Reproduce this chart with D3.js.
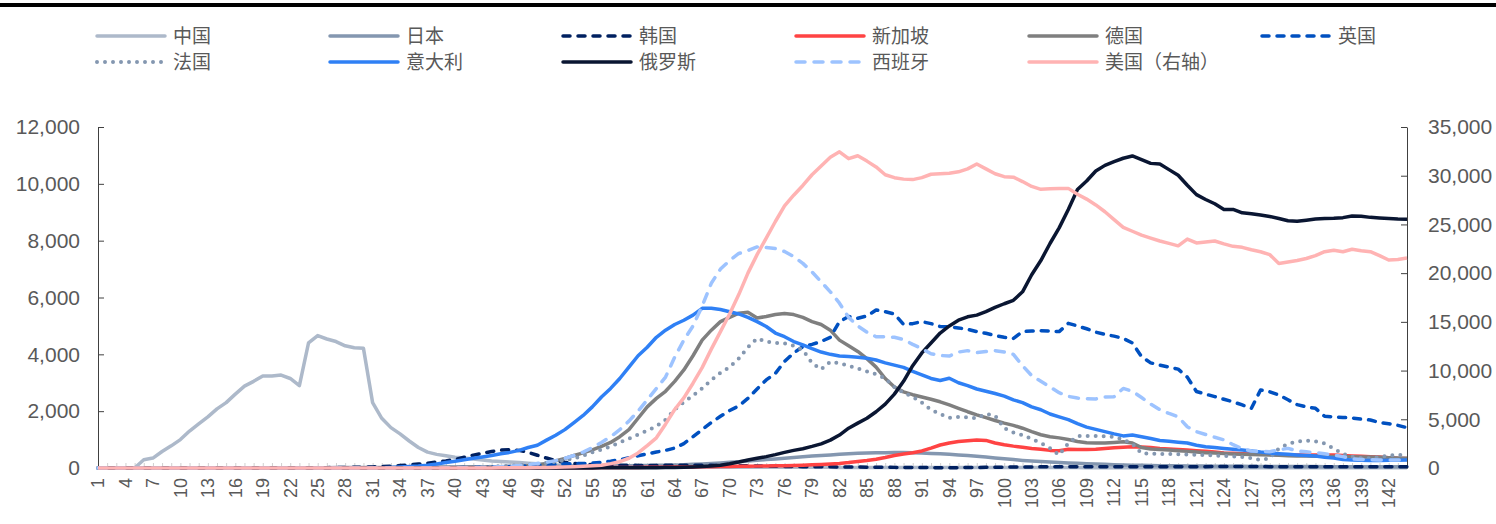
<!DOCTYPE html>
<html>
<head>
<meta charset="utf-8">
<script src="https://cdn.jsdelivr.net/npm/d3@7/dist/d3.min.js"></script>
<style>
  body { margin: 0; background: #fff; }
  text { font-family: "Liberation Sans", Arial, sans-serif; fill: #595959; }
  .cn { font-family: "Liberation Sans", "Noto Sans CJK SC", sans-serif; }
</style>
</head>
<body>
<script>
// categories: day index 1..144
const jours = d3.range(1, 145);
const joursEtiquettes = jours.filter(d => (d - 1) % 3 === 0);
const ticksGauche = [0, 2000, 4000, 6000, 8000, 10000, 12000];
const ticksDroite = [0, 5000, 10000, 15000, 20000, 25000, 30000, 35000];
const noms = ['中国', '日本', '韩国', '新加坡', '德国', '英国', '法国', '意大利', '俄罗斯', '西班牙', '美国（右轴）'];

// series values, 12 per row
const chine = [
  0,0,0,0,0,290,350,580,780,1000,1300,1550,
  1800,2080,2300,2600,2880,3050,3240,3240,3270,3150,2900,4400,
  4660,4540,4450,4300,4230,4210,2300,1750,1420,1200,950,720,
  560,480,430,380,350,320,280,250,230,210,190,170,
  150,130,110,95,80,70,60,55,50,45,40,38,
  36,35,34,33,32,31,30,30,29,28,28,27,
  27,26,26,25,25,24,24,23,23,22,22,22,
  21,21,20,20,20,19,19,18,18,18,17,17,
  17,16,16,16,15,15,15,15,14,14,14,14,
  13,13,13,13,12,12,12,12,12,11,11,11,
  11,11,10,10,10,10,10,10,10,9,9,9,
  9,9,9,9,9,9,8,8,8,8,8,8];
const japon = [
  0,0,0,0,0,0,0,0,0,0,1,1,
  2,2,3,3,4,5,5,6,7,8,9,10,
  11,12,14,15,16,18,20,22,24,26,28,30,
  32,34,36,38,40,42,45,45,47,48,50,52,
  54,55,56,58,60,62,65,68,72,76,80,85,
  90,95,100,105,112,130,145,160,180,200,220,245,
  270,295,320,345,370,395,420,440,460,480,500,515,
  525,535,540,545,542,535,525,512,498,480,460,438,
  412,385,355,325,295,268,245,225,208,192,178,165,
  152,140,128,118,108,100,94,88,83,79,75,72,
  70,68,66,63,61,59,57,55,54,53,52,51,
  50,49,48,47,46,46,45,44,44,43,42,42];
const coree = [
  0,0,0,0,0,0,0,0,0,0,0,0,
  0,0,1,1,1,1,1,1,1,2,3,5,
  8,12,16,20,25,30,38,50,65,85,110,140,
  170,210,250,300,380,450,520,580,630,640,620,550,
  450,350,260,200,160,130,115,105,100,95,95,92,
  90,92,95,98,100,100,98,95,90,85,80,75,
  70,65,60,55,50,48,45,42,40,38,35,32,
  30,28,25,22,20,18,15,14,12,12,12,15,
  20,25,28,30,32,35,38,40,42,44,45,46,
  46,45,45,44,43,42,42,43,44,45,46,47,
  48,48,49,50,50,50,50,49,48,48,48,47,
  47,46,46,46,45,45,45,44,44,44,44,44];
const singapour = [
  0,0,0,0,0,0,0,0,0,0,0,0,
  0,0,0,0,1,1,1,1,1,1,1,1,
  1,1,1,1,1,1,1,1,1,1,1,1,
  2,2,2,3,3,3,4,4,5,5,6,6,
  7,8,9,10,11,12,13,14,15,17,19,21,
  23,26,29,32,35,38,42,46,50,54,58,62,
  66,70,75,82,90,100,112,125,140,160,190,230,
  265,310,370,440,490,540,600,700,810,880,930,960,
  985,970,880,820,770,730,690,660,620,610,660,650,
  650,660,690,710,730,750,740,720,690,670,650,630,
  610,590,560,530,515,505,495,490,480,470,465,457,
  455,455,455,455,440,425,410,400,385,365,345,335];
const allemagne = [
  0,0,0,0,0,0,0,0,0,0,0,0,
  0,0,0,0,0,0,0,0,0,0,0,0,
  0,0,0,0,1,1,2,3,4,5,6,8,
  10,12,15,18,22,26,30,35,40,50,60,80,
  100,160,250,340,440,530,640,760,900,1100,1350,1750,
  2150,2450,2700,3050,3450,3950,4500,4850,5150,5300,5450,5480,
  5280,5330,5400,5440,5400,5300,5150,5050,4850,4500,4300,4100,
  3850,3550,3150,2850,2680,2580,2500,2420,2330,2220,2100,1980,
  1870,1770,1670,1580,1500,1400,1280,1170,1100,1060,1000,930,
  890,880,880,900,925,880,720,670,650,633,610,585,
  560,540,525,510,495,485,475,465,455,445,435,425,
  420,415,410,405,400,395,390,385,378,365,350,340];
const royaumeUni = [
  0,0,0,0,0,0,0,0,0,0,0,0,
  0,0,0,0,0,0,0,0,0,0,0,0,
  0,0,0,0,0,0,0,0,1,1,2,3,
  4,5,7,10,14,18,24,30,40,52,65,80,
  95,110,125,140,150,160,170,200,240,290,360,430,
  500,560,620,700,860,1100,1350,1600,1820,2020,2180,2450,
  2780,3100,3330,3750,4050,4270,4350,4450,4600,5150,5330,5270,
  5350,5560,5500,5420,5050,5080,5150,5080,4980,4970,4930,4880,
  4800,4740,4660,4600,4560,4800,4820,4830,4820,4800,5090,5000,
  4900,4780,4700,4640,4560,4400,3920,3700,3620,3550,3480,3200,
  2690,2600,2510,2420,2330,2220,2100,2745,2680,2570,2400,2230,
  2150,2100,1820,1800,1780,1760,1720,1690,1600,1560,1500,1420];
const france = [
  0,0,0,0,0,0,0,0,0,0,0,0,
  0,0,0,0,0,0,0,0,0,0,0,0,
  0,0,0,0,0,0,1,1,2,3,4,5,
  8,10,14,18,24,30,40,50,65,80,100,120,
  150,180,220,270,340,430,550,650,760,900,1030,1180,
  1320,1470,1700,2050,2320,2550,2800,3100,3350,3550,3850,4250,
  4560,4450,4400,4390,4300,4150,3700,3470,3740,3690,3600,3500,
  3400,3300,3150,2850,2650,2500,2300,2050,1900,1770,1800,1780,
  1750,1900,1850,1400,1250,1160,1020,880,700,460,870,1120,
  1130,1125,1115,1100,1000,850,520,505,495,490,480,470,
  460,450,440,425,410,390,350,285,340,690,850,930,
  960,940,860,680,500,400,350,340,380,450,455,455];
const italie = [
  0,0,0,0,0,0,0,0,0,0,0,0,
  0,0,0,0,0,0,0,0,0,0,0,0,
  0,0,0,0,0,0,5,10,20,35,50,70,
  100,140,190,240,290,340,390,440,500,550,620,720,
  800,980,1150,1350,1600,1850,2150,2500,2800,3150,3550,3950,
  4250,4600,4850,5050,5200,5380,5620,5620,5580,5500,5420,5300,
  5150,4980,4750,4620,4450,4330,4200,4080,4000,3940,3920,3900,
  3860,3800,3700,3620,3540,3400,3280,3150,3080,3160,3000,2900,
  2780,2700,2620,2530,2400,2300,2150,2050,1900,1800,1700,1560,
  1440,1360,1280,1200,1130,1160,1100,1040,970,940,910,880,
  800,750,720,690,660,633,600,560,530,505,480,460,
  440,420,380,350,300,280,270,260,260,270,275,280];
const russie = [
  0,0,0,0,0,0,0,0,0,0,0,0,
  0,0,0,0,0,0,0,0,0,0,0,0,
  0,0,0,0,0,0,0,0,0,0,0,0,
  0,0,0,0,0,0,0,0,0,0,0,0,
  1,1,2,2,3,3,4,5,6,7,8,10,
  10,12,15,20,25,35,50,70,100,150,210,280,
  340,400,470,550,620,680,760,850,980,1160,1400,1580,
  1750,1980,2250,2600,3050,3600,4050,4400,4750,5000,5200,5320,
  5380,5500,5650,5780,5900,6200,6800,7300,7900,8450,9100,9800,
  10100,10450,10650,10780,10900,10980,10850,10720,10700,10500,10300,9950,
  9620,9450,9300,9100,9100,8980,8950,8900,8850,8780,8700,8680,
  8720,8760,8780,8790,8810,8870,8860,8820,8800,8780,8760,8750];
const espagne = [
  0,0,0,0,0,0,0,0,0,0,0,0,
  0,0,0,0,0,0,0,0,0,0,0,0,
  0,0,0,0,0,0,0,0,0,1,1,2,
  3,4,5,8,10,15,20,30,45,60,85,120,
  160,200,260,340,440,560,720,900,1100,1350,1650,2000,
  2400,2800,3200,3900,4500,5000,5700,6500,7000,7300,7550,7650,
  7780,7760,7720,7620,7440,7200,6900,6550,6200,5800,5300,5000,
  4780,4620,4620,4600,4520,4350,4200,4020,3960,3940,4080,4130,
  4060,4100,4130,4080,4000,3600,3250,3050,2850,2650,2520,2460,
  2440,2430,2500,2510,2800,2700,2480,2250,2050,1920,1800,1450,
  1280,1180,1080,990,820,680,600,580,575,640,690,600,
  570,540,500,460,400,320,300,290,280,280,280,280];
// right axis
const etatsUnis = [
  0,0,0,0,0,0,0,0,0,0,0,0,
  0,0,0,0,0,0,0,0,0,0,0,0,
  0,0,0,0,0,0,0,0,0,0,1,1,
  2,3,4,5,6,8,10,12,15,20,26,35,
  45,60,80,100,130,170,220,290,450,650,1000,1550,
  2300,3100,4500,6000,7200,8700,10300,12200,14000,15800,17800,20000,
  21900,23600,25300,26900,28000,29000,30100,31000,31900,32450,31750,32050,
  31500,30900,30100,29800,29650,29600,29800,30150,30200,30250,30400,30700,
  31200,30700,30200,29900,29850,29400,28900,28600,28650,28700,28700,28100,
  27600,27000,26300,25500,24700,24300,23900,23600,23300,23050,22800,23500,
  23100,23200,23300,23000,22750,22650,22400,22200,21900,21000,21150,21300,
  21500,21800,22200,22350,22200,22450,22300,22200,21800,21350,21400,21550];

const valeurs = [chine, japon, coree, singapour, allemagne, royaumeUni, france, italie, russie, espagne, etatsUnis];

// styles
const couleurs = ['#adb9ca', '#8497b0', '#002060', '#ff4343', '#7f7f7f', '#0050c0', '#8497b0', '#2f80f5', '#0a1632', '#9dc3ff', '#ffb3b3'];
const tirets = [null, null, '7,8', null, null, '7,8', '0,8', null, null, '9,9', null];
const epaisseurs = [3.5, 3.5, 3.5, 3.5, 3.5, 3.5, 4, 3.5, 3.5, 3.5, 3.5];

const canevas = d3.select('body')
  .append('svg')
  .attr('width', 1496)
  .attr('height', 524);

// bande noire en haut
canevas.append('rect')
  .attr('x', 0).attr('y', 3)
  .attr('width', 1496).attr('height', 4)
  .attr('fill', '#000');

const x = d3.scaleLinear().domain([1, 144]).range([98, 1407]);
const yGauche = d3.scaleLinear().domain([0, 12000]).range([468, 127]);
const yDroite = d3.scaleLinear().domain([0, 35000]).range([468, 127]);
const fmt = d3.format(',');

// axe du bas
const axeBas = canevas.append('g')
  .attr('transform', 'translate(0,468)')
  .call(d3.axisBottom(x).tickValues(jours).tickSize(-5).tickSizeOuter(0).tickFormat(''));
axeBas.selectAll('path,line').attr('stroke', '#d0d0d0');

canevas.append('g')
  .selectAll('text')
  .data(joursEtiquettes)
  .enter()
  .append('text')
  .attr('transform', d => `translate(${x(d)},478) rotate(-90)`)
  .attr('text-anchor', 'end')
  .attr('dy', '0.35em')
  .attr('font-size', 18)
  .text(d => d);

// axes verticaux
const axeGauche = canevas.append('g')
  .attr('transform', 'translate(98,0)')
  .call(d3.axisLeft(yGauche).tickValues(ticksGauche).tickSize(-6).tickSizeOuter(0).tickPadding(18).tickFormat(fmt));
const axeDroite = canevas.append('g')
  .attr('transform', 'translate(1407,0)')
  .call(d3.axisRight(yDroite).tickValues(ticksDroite).tickSize(-6).tickSizeOuter(0).tickPadding(21).tickFormat(fmt));
[axeGauche, axeDroite].forEach(a => {
  a.selectAll('path,line').attr('stroke', '#404040');
  a.selectAll('text').attr('font-size', 21).attr('fill', '#595959')
    .style('font-family', '"Liberation Sans", Arial, sans-serif');
});

// lignes
valeurs.forEach((serie, k) => {
  const y = k === 10 ? yDroite : yGauche;
  const ligne = d3.line()
    .x((d, i) => x(jours[i]))
    .y(d => y(d));
  canevas.append('path')
    .attr('d', ligne(serie))
    .attr('fill', 'none')
    .attr('stroke', couleurs[k])
    .attr('stroke-width', epaisseurs[k])
    .attr('stroke-linejoin', 'round')
    .attr('stroke-linecap', tirets[k] ? 'round' : 'butt')
    .attr('stroke-dasharray', tirets[k]);
});

// légende
const legende = canevas.append('g')
  .selectAll('g')
  .data(noms)
  .enter()
  .append('g')
  .attr('transform', (d, k) => `translate(${97 + (k % 6) * 233},${k < 6 ? 36 : 62})`);
legende.append('line')
  .attr('x1', 0).attr('x2', 68)
  .attr('stroke', (d, k) => couleurs[k])
  .attr('stroke-width', (d, k) => epaisseurs[k])
  .attr('stroke-linecap', 'round')
  .attr('stroke-dasharray', (d, k) => tirets[k]);
legende.append('text')
  .attr('class', 'cn')
  .attr('x', 76)
  .attr('dy', '0.35em')
  .attr('font-size', 19)
  .text(d => d);
</script>
</body>
</html>
